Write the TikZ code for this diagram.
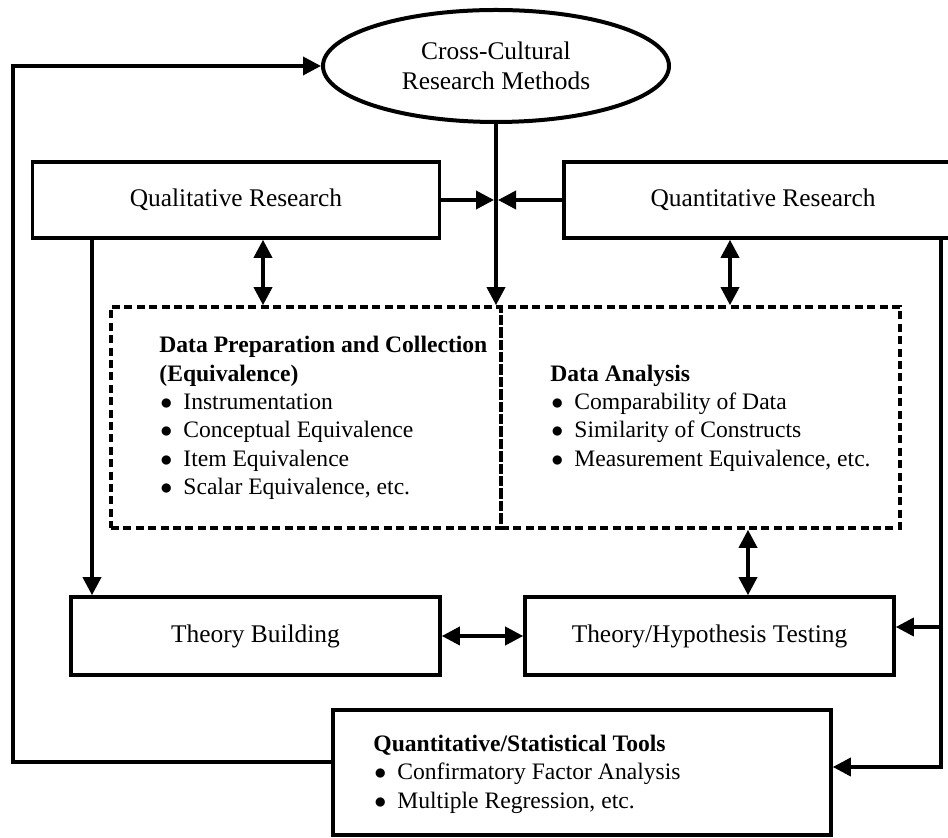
\documentclass[tikz,border=0pt]{standalone}
\usepackage{fontspec}
\setmainfont{Liberation Serif}
\usetikzlibrary{arrows.meta,shapes.geometric,calc}
\newcommand{\itm}{\hspace*{0.5pt}\makebox[11.5pt][l]{$\bullet$}}
\begin{document}
\begin{tikzpicture}[x=0.5pt,y=-0.5pt,
  every node/.style={font=\fontsize{12.7pt}{14.2pt}\selectfont},
  box/.style={draw, line width=1.8pt, rectangle, inner sep=0pt},
  dbox/.style={draw, line width=1.8pt, rectangle, inner sep=0pt, dash pattern=on 4pt off 2.2pt},
  txt/.style={anchor=west, align=left, inner sep=0pt, font=\fontsize{11.8pt}{14.2pt}\selectfont},
  conn/.style={line width=1.8pt, -{Triangle[length=9pt,width=9pt]}},
  dbl/.style={line width=1.8pt, {Triangle[length=9pt,width=9pt]}-{Triangle[length=9pt,width=9pt]}}]
\useasboundingbox (0,0) rectangle (948,838);
\fill[white] (0,0) rectangle (948,838);
\clip (0,0) rectangle (948,838);

% nodes
\node[draw, ellipse, line width=2pt, inner sep=0pt, minimum width=173pt, minimum height=56pt, align=center,
  font=\fontsize{12.7pt}{15pt}\selectfont] (ell) at (496,66) {Cross-Cultural\\Research Methods};
\node[box, minimum width=203.5pt, minimum height=38pt] (qual) at (236,200) {Qualitative Research};
\node[box, minimum width=199pt, minimum height=38pt] (quant) at (763,200) {Quantitative Research};
\node[dbox, minimum width=195pt, minimum height=110.5pt] (dashL) at (306,417.5) {};
\node[dbox, minimum width=199.5pt, minimum height=110.5pt] (dashR) at (700.5,417.5) {};
\node[txt] (txtL) at (159,418) {\textbf{Data Preparation and Collection}\\\textbf{(Equivalence)}\\\itm Instrumentation\\\itm Conceptual Equivalence\\\itm Item Equivalence\\\itm Scalar Equivalence, etc.};
\node[txt] (txtR) at (550,418) {\textbf{Data Analysis}\\\itm Comparability of Data\\\itm Similarity of Constructs\\\itm Measurement Equivalence, etc.};
\node[box, minimum width=184.5pt, minimum height=39pt] (tb) at (255.5,636) {Theory Building};
\node[box, minimum width=184.5pt, minimum height=39pt] (th) at (709.5,636) {Theory/Hypothesis Testing};
\node[box, minimum width=249pt, minimum height=62.5pt] (stat) at (582,772.5) {};
\node[txt] (txtS) at (373,774) {\textbf{Quantitative/Statistical Tools}\\\itm Confirmatory Factor Analysis\\\itm Multiple Regression, etc.};

% helper coordinates
\coordinate (jl) at (494,200);
\coordinate (jr) at (498,200);
\coordinate (xa) at (263,0);
\coordinate (xb) at (730,0);
\coordinate (xc) at (92,0);
\coordinate (xd) at (748,0);
\coordinate (xe) at (941,0);
\coordinate (xf) at (13,0);
\coordinate (yS) at (0,767);
\coordinate (yT) at (0,627);
\coordinate (yL) at (0,762);

% connectors
\draw[conn] (ell.south) -- (ell.south |- dashL.north);
\draw[conn] (qual.east) -- (jl);
\draw[conn] (quant.west) -- (jr);
\draw[dbl] (qual.south -| xa) -- (dashL.north -| xa);
\draw[dbl] (quant.south -| xb) -- (dashR.north -| xb);
\draw[conn] (qual.south -| xc) -- (tb.north -| xc);
\draw[dbl] (dashR.south -| xd) -- (th.north -| xd);
\draw[dbl] (tb.east) -- (th.west);
\draw[conn] (quant.south -| xe) |- (stat.east |- yS);
\draw[conn] (xe |- yT) -- (th.east |- yT);
\draw[conn] (stat.west |- yL) -| (xf |- ell.west) -- (ell.west);
\end{tikzpicture}
\end{document}
